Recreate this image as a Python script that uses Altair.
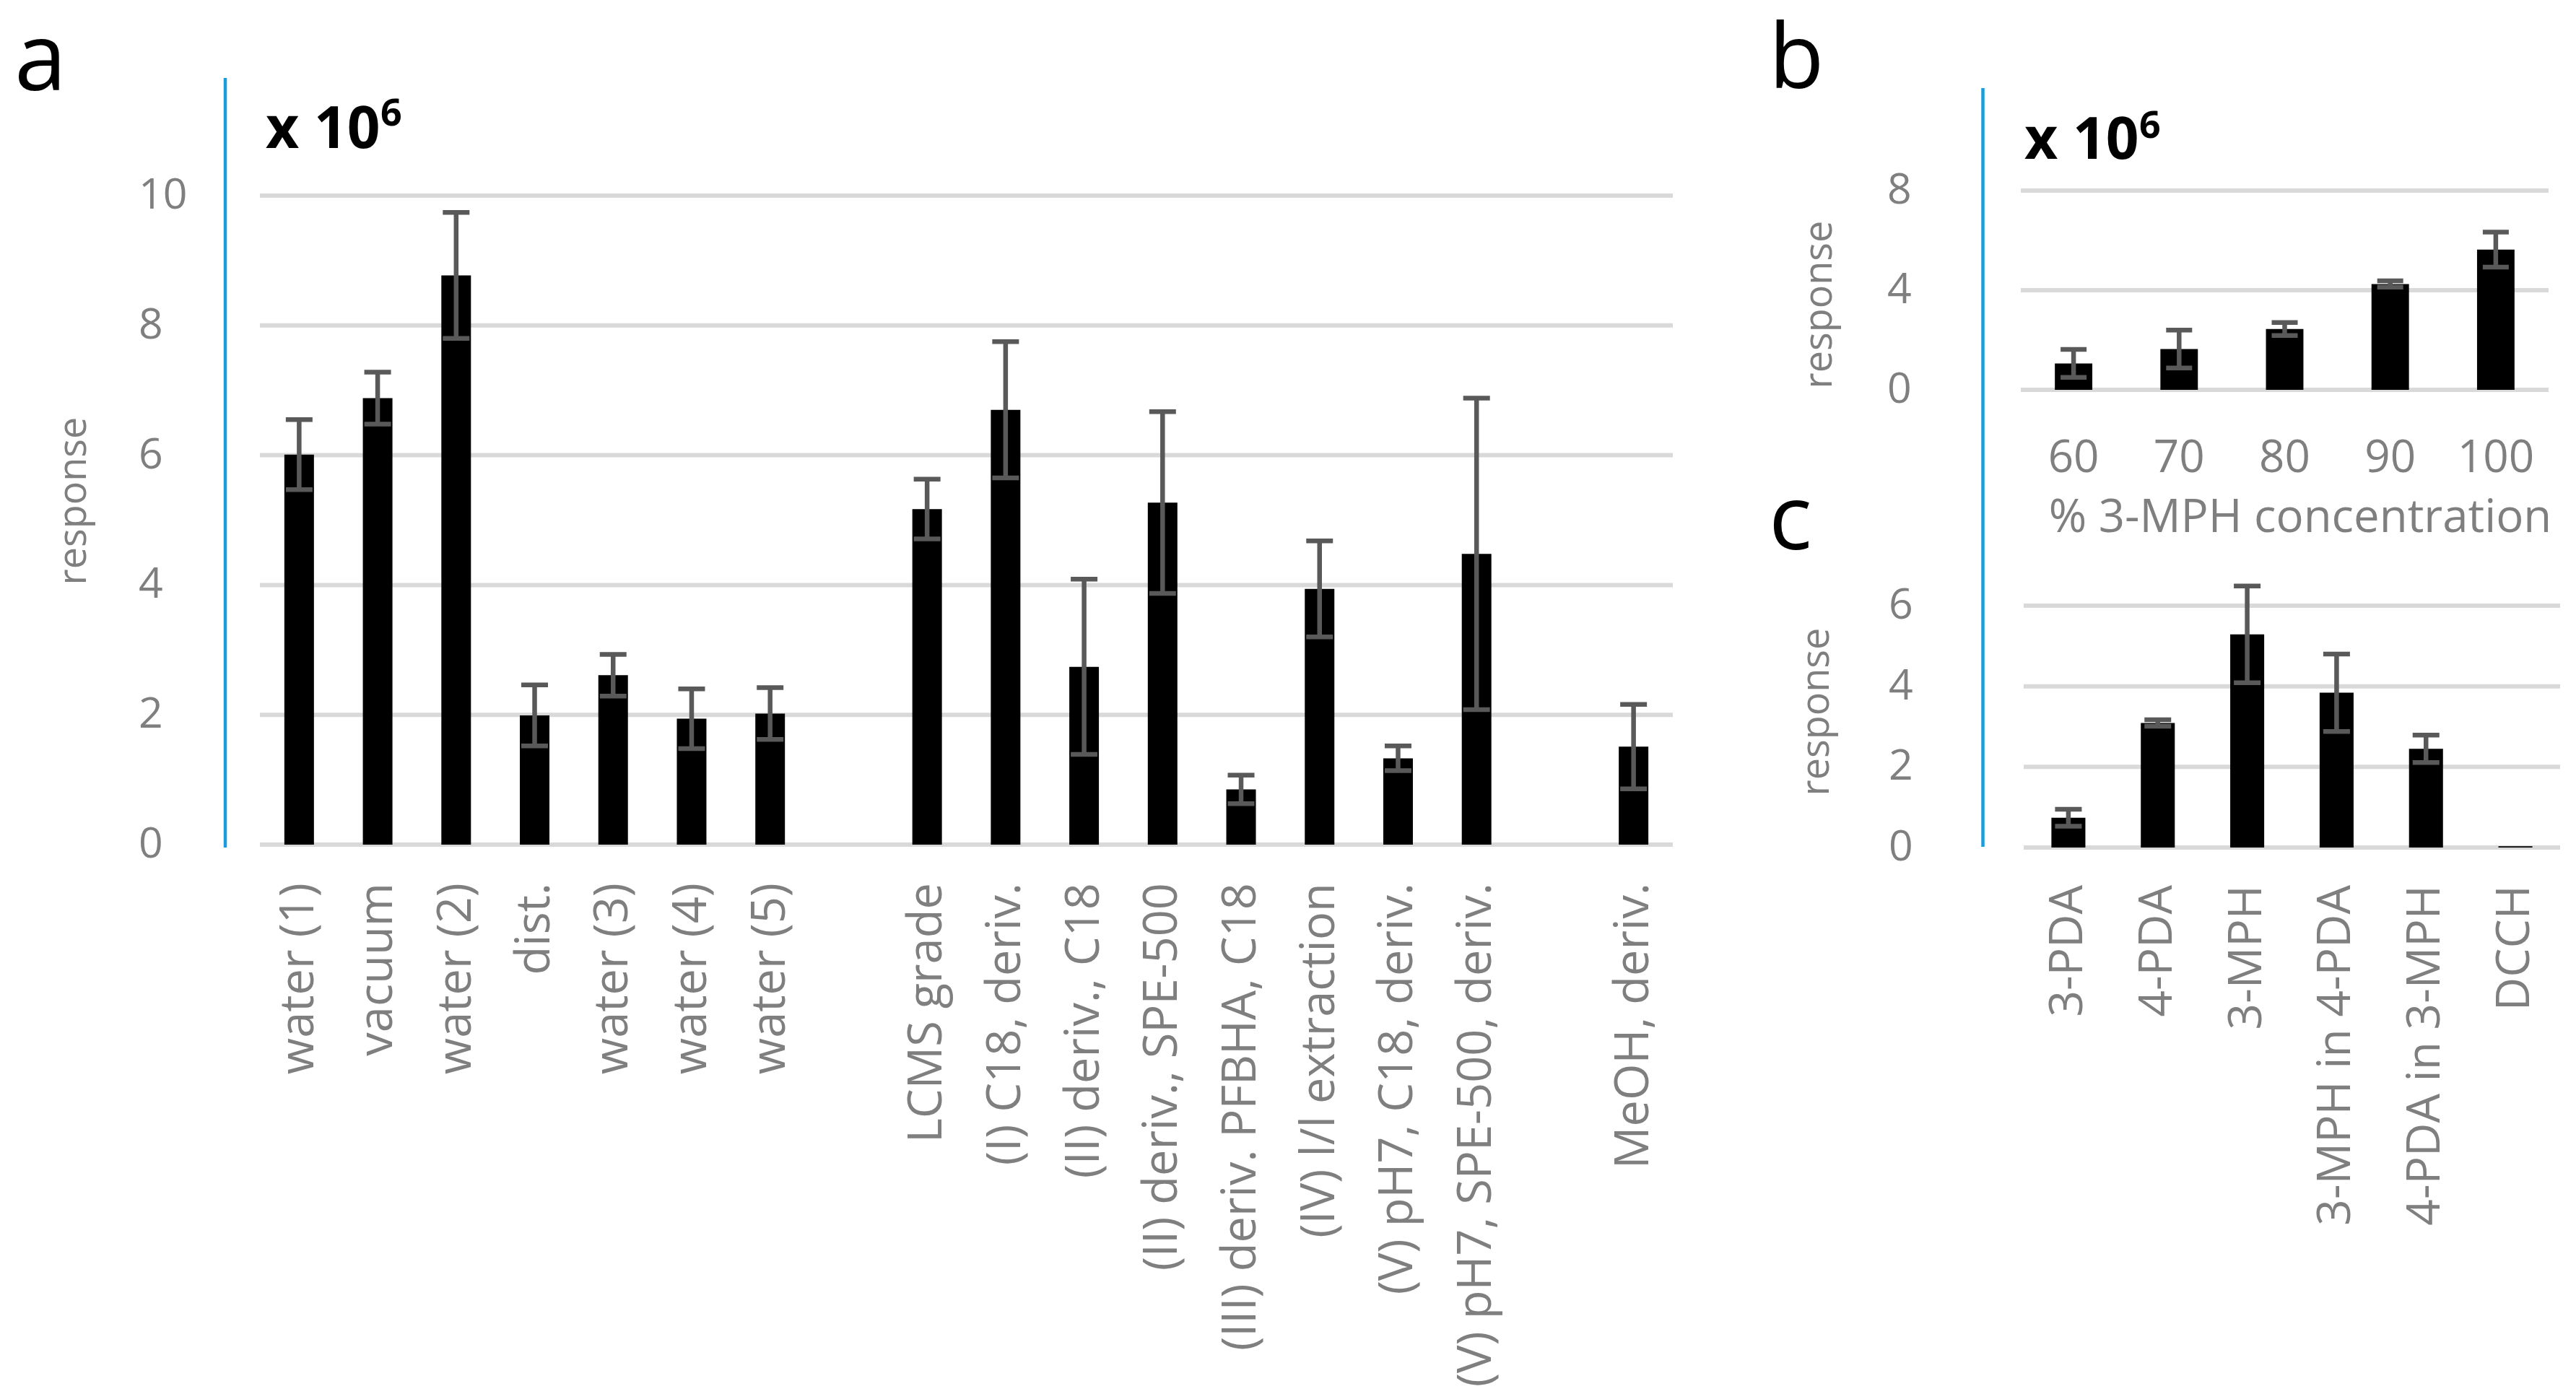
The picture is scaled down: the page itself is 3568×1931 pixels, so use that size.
import altair as alt
import pandas as pd

# ---------------- data ----------------
a_labels = ["water (1)", "vacuum", "water (2)", "dist.", "water (3)", "water (4)", "water (5)",
            "LCMS grade", "(I) C18, deriv.", "(II) deriv., C18", "(II) deriv., SPE-500",
            "(III) deriv. PFBHA, C18", "(IV) l/l extraction", "(V) pH7, C18, deriv.",
            "(V) pH7, SPE-500, deriv.", "MeOH, deriv."]
a_values = [6.01, 6.88, 8.77, 1.99, 2.61, 1.94, 2.02, 5.17, 6.70, 2.74, 5.27, 0.85, 3.94, 1.33, 4.48, 1.51]
a_errors = [0.54, 0.40, 0.97, 0.47, 0.32, 0.46, 0.40, 0.46, 1.05, 1.35, 1.40, 0.22, 0.74, 0.19, 2.40, 0.65]
a_domain = a_labels[:7] + [" "] + a_labels[7:15] + ["  "] + a_labels[15:]
a_ticks = [0, 2, 4, 6, 8, 10]

b_labels = ["60", "70", "80", "90", "100"]
b_values = [1.06, 1.64, 2.44, 4.25, 5.63]
b_errors = [0.56, 0.76, 0.26, 0.13, 0.70]
b_ticks = [0, 4, 8]

c_labels = ["3-PDA", "4-PDA", "3-MPH", "3-MPH in 4-PDA", "4-PDA in 3-MPH", "DCCH"]
c_values = [0.74, 3.09, 5.29, 3.84, 2.45, 0.03]
c_errors = [0.21, 0.08, 1.20, 0.96, 0.34, 0.0]
c_ticks = [0, 2, 4, 6]

FONT = "Open Sans"
TXT = "#7f7f7f"
GRID = "#d9d9d9"
ERR = "#595959"
BLUE = "#1b9ddb"


def make_df(labels, values, errors):
    d = pd.DataFrame({"cat": labels, "val": values, "err": errors})
    d["lo"] = d["val"] - d["err"]
    d["hi"] = d["val"] + d["err"]
    return d


def panel(data, domain, xrange, pad, ydomain, yrange, ticks, tick_x, cap,
          label_y, rotated, label_size):
    xs = alt.Scale(domain=domain, range=xrange, paddingInner=pad, paddingOuter=pad / 2)
    ys = alt.Scale(domain=ydomain, range=yrange, nice=False, zero=True)
    X = alt.X("cat:N", scale=xs, axis=None)
    tdf = pd.DataFrame({"t": ticks})
    layers = []
    layers.append(alt.Chart(tdf).mark_rule(color=GRID, strokeWidth=6).encode(
        y=alt.Y("t:Q", scale=ys, axis=None), x=alt.value(xrange[0]), x2=alt.value(xrange[1])))
    layers.append(alt.Chart(tdf).mark_text(align="left", baseline="middle", fontSize=59,
                                           color=TXT, font=FONT).encode(
        y=alt.Y("t:Q", scale=ys, axis=None), x=alt.value(tick_x), text="t:Q"))
    layers.append(alt.Chart(data).mark_bar(color="black").encode(
        x=X, y=alt.Y("val:Q", scale=ys, axis=None)))
    layers.append(alt.Chart(data).transform_filter("datum.err > 0").mark_rule(
        color=ERR, strokeWidth=6.5).encode(
        x=X, y=alt.Y("lo:Q", scale=ys, axis=None), y2="hi:Q"))
    for f in ["lo", "hi"]:
        layers.append(alt.Chart(data).transform_filter("datum.err > 0").mark_tick(
            color=ERR, thickness=6.5, size=cap, opacity=1).encode(
            x=X, y=alt.Y(f + ":Q", scale=ys, axis=None)))
    if rotated:
        layers.append(alt.Chart(data).mark_text(angle=270, align="right", baseline="middle",
                                                fontSize=label_size, color=TXT, font=FONT).encode(
            x=X, y=alt.value(label_y), text="cat:N"))
    else:
        layers.append(alt.Chart(data).mark_text(align="center", baseline="alphabetic",
                                                fontSize=label_size, color=TXT, font=FONT).encode(
            x=X, y=alt.value(label_y), text="cat:N"))
    return layers


def note(text, x, y, size, color="black", weight="normal", angle=0, align="left",
         baseline="alphabetic"):
    return alt.Chart(pd.DataFrame({"t": [text]})).mark_text(
        fontSize=size, color=color, fontWeight=weight, angle=angle, align=align,
        baseline=baseline, font=FONT).encode(text="t:N", x=alt.value(x), y=alt.value(y))


def vline(x, y1, y2):
    return alt.Chart(pd.DataFrame({"v": [0]})).mark_rule(color=BLUE, strokeWidth=4.5).encode(
        x=alt.value(x), y=alt.value(y1), y2=alt.value(y2))


layers = []
layers += panel(make_df(a_labels, a_values, a_errors), a_domain, [352, 2309], 0.623,
                [0, 10], [1162, 263], a_ticks, 184, 37, 1215, True, 65)
layers += panel(make_df(b_labels, b_values, b_errors), b_labels, [2791, 3522], 0.645,
                [0, 8], [532, 256], b_ticks, 2606, 36, 646, False, 62)
layers += panel(make_df(c_labels, c_values, c_errors), c_labels, [2795, 3538], 0.62,
                [0, 6], [1166, 831], c_ticks, 2608, 37, 1218, True, 64)

layers += [
    vline(304, 100, 1166),
    vline(2738.5, 114, 1165),
    note("a", 12, 117, 130),
    note("b", 2442, 114, 125),
    note("c", 2442, 753, 125),
    note("x 10", 360, 197, 80, weight="bold"),
    note("6", 519, 166, 52, weight="bold"),
    note("x 10", 2796, 212, 80, weight="bold"),
    note("6", 2955, 183, 52, weight="bold"),
    note("response", 95, 686, 54, color=TXT, angle=270, align="center", baseline="middle"),
    note("response", 2513, 414, 54, color=TXT, angle=270, align="center", baseline="middle"),
    note("response", 2509, 978, 54, color=TXT, angle=270, align="center", baseline="middle"),
    note("% 3-MPH concentration", 3178, 729, 63.5, color=TXT, align="center"),
]

chart = alt.layer(*layers).resolve_scale(x="independent", y="independent").properties(
    width=3552, height=1915, autosize=alt.AutoSizeParams(type="none"), padding=0
).configure_view(stroke=None)

chart.save("out.html", embed_options={"renderer": "svg", "actions": False})
